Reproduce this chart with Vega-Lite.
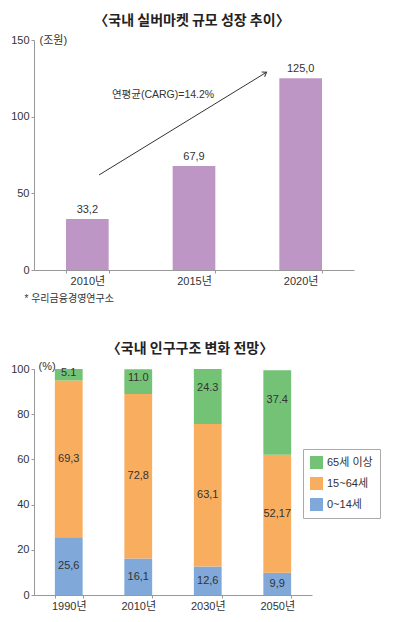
{
  "$schema": "https://vega.github.io/schema/vega-lite/v6.json",
  "padding": {"left": 10, "top": 14, "right": 5, "bottom": 5},
  "background": "white",
  "config": {
    "view": {"stroke": null},
    "font": "Liberation Sans, Noto Sans CJK KR",
    "axis": {"grid": false, "domainColor": "#999", "tickColor": "#999", "labelColor": "#333", "labelFontSize": 11, "tickSize": 3, "labelPadding": 2, "titleColor": "#333", "titleFontWeight": "normal", "titleFontSize": 11, "labelFont": "Liberation Sans, Noto Sans CJK KR", "titleFont": "Liberation Sans, Noto Sans CJK KR"},
    "title": {"fontSize": 14, "fontWeight": "bold", "color": "#222", "font": "Noto Sans CJK KR"},
    "concat": {"spacing": 39}
  },
  "resolve": {"legend": {"color": "independent"}},
  "vconcat": [
    {
      "width": 320,
      "height": 230,
      "title": {"text": "〈국내 실버마켓 규모 성장 추이〉", "offset": 6, "dx": -2},
      "layer": [
        {
          "data": {"values": [
            {"year": "2010년", "value": 33.2, "label": "33,2"},
            {"year": "2015년", "value": 67.9, "label": "67,9"},
            {"year": "2020년", "value": 125.0, "label": "125,0"}
          ]},
          "encoding": {
            "x": {"field": "year", "type": "nominal", "scale": {"paddingInner": 0.6, "paddingOuter": 0.3},
                  "axis": {"labelAngle": 0, "tickBand": "extent", "title": "* 우리금융경영연구소", "titleAnchor": "start", "titleAlign": "left", "titleX": -10, "titleY": 23, "titleBaseline": "top", "titleFontSize": 10}},
            "y": {"field": "value", "type": "quantitative", "scale": {"domain": [0, 150], "nice": false},
                  "axis": {"values": [0, 50, 100, 150], "title": "(조원)", "titleAngle": 0, "titleAlign": "left", "titleBaseline": "middle", "titleX": 5, "titleY": 0}}
          },
          "layer": [
            {"mark": {"type": "bar", "color": "#BE96C6"}},
            {"mark": {"type": "text", "baseline": "bottom", "dy": -4, "fontSize": 11, "color": "#333"},
             "encoding": {"text": {"field": "label"}}}
          ]
        },
        {
          "layer": [
            {
              "data": {"values": [{"x1": 0.61, "y1": 62, "x2": 2.18, "y2": 129}]},
              "mark": {"type": "rule", "color": "#333", "strokeWidth": 1},
              "encoding": {
                "x": {"field": "x1", "type": "quantitative", "scale": {"domain": [0, 3], "nice": false}, "axis": null},
                "y": {"field": "y1", "type": "quantitative", "title": "(조원)", "scale": {"domain": [0, 150], "nice": false}},
                "x2": {"field": "x2"},
                "y2": {"field": "y2"}
              }
            },
            {
              "data": {"values": [{"x1": 0.61, "y1": 62, "x2": 2.18, "y2": 129}]},
              "mark": {"type": "point", "shape": "M-1,-0.7L0,0L-1,0.7", "filled": false, "stroke": "#333", "strokeWidth": 1, "size": 64, "angle": 328.5, "opacity": 1},
              "encoding": {
                "x": {"field": "x2", "type": "quantitative", "axis": null},
                "y": {"field": "y2", "type": "quantitative", "title": "(조원)", "scale": {"domain": [0, 150], "nice": false}}
              }
            },
            {
              "data": {"values": [{"x": 1.21, "y": 114, "text": "연평균(CARG)=14.2%"}]},
              "mark": {"type": "text", "fontSize": 10.5, "color": "#333"},
              "encoding": {
                "x": {"field": "x", "type": "quantitative", "axis": null},
                "y": {"field": "y", "type": "quantitative", "title": "(조원)", "scale": {"domain": [0, 150], "nice": false}},
                "text": {"field": "text"}
              }
            }
          ]
        }
      ],
      "resolve": {"scale": {"x": "independent"}}
    },
    {
      "width": 278,
      "height": 226,
      "title": {"text": "〈국내 인구구조 변화 전망〉", "offset": 4, "dx": 17},
      "data": {"values": [
        {"year": "1990년", "group": "0~14세", "value": 25.6, "label": "25,6", "order": 1},
        {"year": "1990년", "group": "15~64세", "value": 69.3, "label": "69,3", "order": 2},
        {"year": "1990년", "group": "65세 이상", "value": 5.1, "label": "5.1", "order": 3},
        {"year": "2010년", "group": "0~14세", "value": 16.1, "label": "16,1", "order": 1},
        {"year": "2010년", "group": "15~64세", "value": 72.8, "label": "72,8", "order": 2},
        {"year": "2010년", "group": "65세 이상", "value": 11.0, "label": "11.0", "order": 3},
        {"year": "2030년", "group": "0~14세", "value": 12.6, "label": "12,6", "order": 1},
        {"year": "2030년", "group": "15~64세", "value": 63.1, "label": "63,1", "order": 2},
        {"year": "2030년", "group": "65세 이상", "value": 24.3, "label": "24.3", "order": 3},
        {"year": "2050년", "group": "0~14세", "value": 9.9, "label": "9,9", "order": 1},
        {"year": "2050년", "group": "15~64세", "value": 52.17, "label": "52,17", "order": 2},
        {"year": "2050년", "group": "65세 이상", "value": 37.4, "label": "37.4", "order": 3}
      ]},
      "encoding": {
        "x": {"field": "year", "type": "nominal", "scale": {"paddingInner": 0.6, "paddingOuter": 0.3},
              "axis": {"labelAngle": 0, "tickBand": "extent", "title": null}}
      },
      "layer": [
        {
          "mark": {"type": "bar"},
          "encoding": {
            "y": {"field": "value", "type": "quantitative", "stack": "zero", "scale": {"domain": [0, 100], "nice": false},
                  "axis": {"values": [0, 20, 40, 60, 80, 100], "title": "(%)", "titleAngle": 0, "titleAlign": "left", "titleBaseline": "middle", "titleX": 4, "titleY": -3}},
            "color": {"field": "group", "type": "nominal",
                      "scale": {"domain": ["65세 이상", "15~64세", "0~14세"], "range": ["#73C275", "#F9AD5F", "#80A8D9"]},
                      "legend": {"title": null, "orient": "none", "legendX": 269, "legendY": 80, "symbolType": "square", "symbolSize": 169, "labelFontSize": 11, "strokeColor": "#aaa", "fillColor": "white", "padding": 7, "rowPadding": 8, "labelOffset": 4, "symbolStrokeWidth": 0, "labelColor": "#333", "labelFont": "Liberation Sans, Noto Sans CJK KR"}},
            "order": {"field": "order", "type": "quantitative"}
          }
        },
        {
          "mark": {"type": "text", "fontSize": 11, "color": "#333"},
          "encoding": {
            "y": {"field": "value", "type": "quantitative", "stack": "zero", "bandPosition": 0.5, "title": "(%)", "scale": {"domain": [0, 100], "nice": false}},
            "detail": {"field": "group"},
            "order": {"field": "order", "type": "quantitative"},
            "text": {"condition": {"test": "datum.order < 3", "field": "label"}, "value": ""}
          }
        },
        {
          "mark": {"type": "text", "fontSize": 11, "color": "#333"},
          "encoding": {
            "y": {"field": "value", "type": "quantitative", "stack": "zero", "bandPosition": 0.65, "title": "(%)", "scale": {"domain": [0, 100], "nice": false}},
            "detail": {"field": "group"},
            "order": {"field": "order", "type": "quantitative"},
            "text": {"condition": {"test": "datum.order == 3", "field": "label"}, "value": ""}
          }
        }
      ]
    }
  ]
}
